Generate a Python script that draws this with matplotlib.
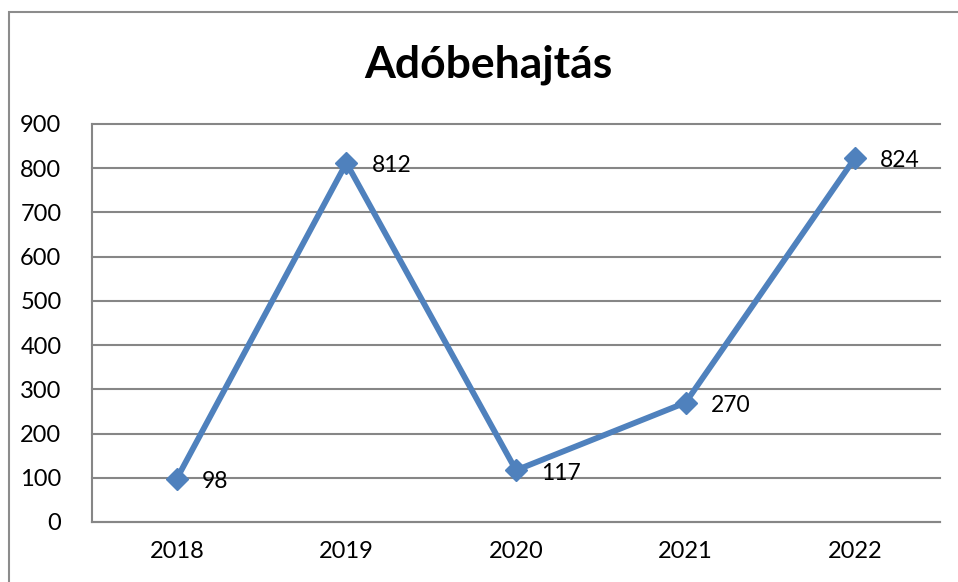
import matplotlib.pyplot as plt
from matplotlib.patches import Rectangle

years = ['2018', '2019', '2020', '2021', '2022']
values = [98, 812, 117, 270, 824]
yticks = [0, 100, 200, 300, 400, 500, 600, 700, 800, 900]

plt.rcParams['font.family'] = ['Lato', 'DejaVu Sans']

fig = plt.figure(figsize=(9.58, 5.82), dpi=100)
ax = fig.add_axes([92 / 958, 1 - 522 / 582, 848 / 958, 398 / 582])

# outer chart border (Excel-style frame)
fig.patches.append(Rectangle((9 / 958, -0.05), 1.2, 1 - 12 / 582 + 0.05,
                             transform=fig.transFigure, fill=False,
                             edgecolor='#8c8c8c', linewidth=1.5))

x = range(len(years))
ax.plot(x, values, color='#4F81BD', linewidth=4.2, marker='D', markersize=11,
        markeredgecolor='#4F81BD', zorder=3, clip_on=False)

for xi, v in zip(x, values):
    ax.annotate(str(v), (xi, v), xytext=(18, -2), textcoords='offset points',
                ha='left', va='center', fontsize=16.5)

ax.set_xlim(-0.5, len(years) - 0.5)
ax.set_ylim(0, 900)
ax.set_yticks(yticks)
ax.set_xticks(list(x))
ax.set_xticklabels(years)
ax.tick_params(axis='both', length=0, labelsize=17)
ax.tick_params(axis='y', pad=22)
ax.tick_params(axis='x', pad=14)
ax.grid(axis='y', color='#868686', linewidth=1.5)
for gl in ax.get_ygridlines():
    gl.set_clip_on(False)
ax.set_axisbelow(True)
for side in ['top', 'right']:
    ax.spines[side].set_visible(False)
for side in ['left', 'bottom']:
    ax.spines[side].set_color('#868686')
    ax.spines[side].set_linewidth(1.5)

fig.text(488 / 958, 1 - 65 / 582, 'Adóbehajtás', ha='center', va='center',
         fontsize=32, fontweight='bold')

plt.savefig('out.png', dpi=100)
plt.close()
